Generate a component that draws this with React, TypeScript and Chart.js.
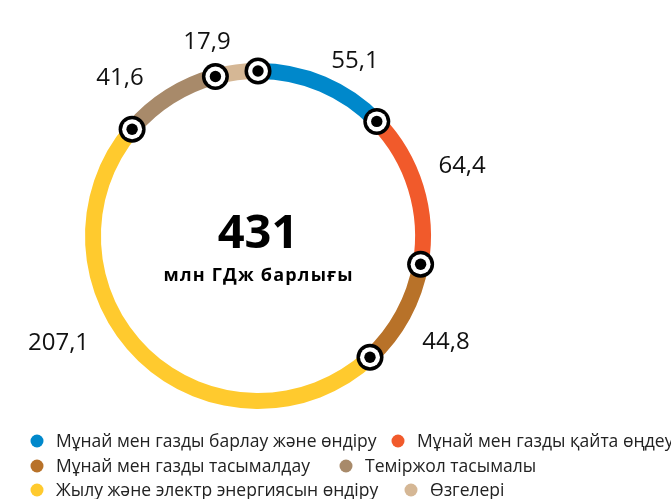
import React, { useEffect, useRef } from "react";
import { Chart, registerables } from "chart.js";

Chart.register(...registerables);

// ---- data ----
const categories = [
  "Мұнай мен газды барлау және өндіру",
  "Мұнай мен газды қайта өңдеу",
  "Мұнай мен газды тасымалдау",
  "Жылу және электр энергиясын өндіру",
  "Теміржол тасымалы",
  "Өзгелері",
];
const values = [55.1, 64.4, 44.8, 207.1, 41.6, 17.9];
const valueLabels = ["55,1", "64,4", "44,8", "207,1", "41,6", "17,9"];
const totalLabel = "431";
const totalCaption = "млн ГДж барлығы";
const colors = ["#0088CB", "#F15A2B", "#B87229", "#FFCA2E", "#A88A6A", "#D5B795"];
// legend rows (indices into categories)
const legendRows = [
  [0, 1],
  [2, 4],
  [3, 5],
];

// ---- layout / style ----
const FONT = '"Open Sans", "Noto Sans", sans-serif';
const TEXT_COLOR = "#111111";
const LABEL_NUDGE: [number, number][] = [
  [-3, 3],
  [-6, -14],
  [-7, 11],
  [-34, -35],
  [-10, 5],
  [-2, -2],
];
const LEGEND_Y = [441, 466, 490];
const LEGEND_X = [
  [37, 398],
  [37, 346],
  [37, 411],
];

const decorPlugin = {
  id: "decor",
  afterDatasetsDraw(chart: any) {
    const ctx: any = chart.ctx;
    const meta = chart.getDatasetMeta(0);
    const arcs = meta.data;
    if (!arcs.length) return;
    const cx = arcs[0].x;
    const cy = arcs[0].y;
    ctx.save();

    // value labels
    ctx.font = `400 24px ${FONT}`;
    ctx.fillStyle = TEXT_COLOR;
    ctx.textBaseline = "alphabetic";
    arcs.forEach((arc: any, i: number) => {
      const p = arc.getProps(["startAngle", "endAngle", "outerRadius"], true);
      const mid = (p.startAngle + p.endAngle) / 2;
      const r = p.outerRadius + 22;
      const [nx, ny] = LABEL_NUDGE[i] || [0, 0];
      const px = cx + r * Math.cos(mid) + nx;
      const py = cy + r * Math.sin(mid) + ny;
      ctx.textAlign = Math.cos(mid) >= 0 ? "left" : "right";
      ctx.fillText(valueLabels[i], px, py + 8.6);
    });

    // boundary markers
    arcs.forEach((arc: any) => {
      const p = arc.getProps(["startAngle", "innerRadius", "outerRadius"], true);
      const rm = (p.innerRadius + p.outerRadius) / 2;
      const mx = cx + rm * Math.cos(p.startAngle);
      const my = cy + rm * Math.sin(p.startAngle);
      ctx.beginPath();
      ctx.arc(mx, my, 13.5, 0, Math.PI * 2);
      ctx.fillStyle = "#000";
      ctx.fill();
      ctx.beginPath();
      ctx.arc(mx, my, 10, 0, Math.PI * 2);
      ctx.fillStyle = "#fff";
      ctx.fill();
      ctx.beginPath();
      ctx.arc(mx, my, 5.7, 0, Math.PI * 2);
      ctx.fillStyle = "#000";
      ctx.fill();
    });

    // center text
    ctx.fillStyle = "#000";
    ctx.textAlign = "center";
    ctx.font = `700 47px ${FONT}`;
    ctx.fillText(totalLabel, cx, 247.5);
    ctx.font = `700 18px ${FONT}`;
    if ("letterSpacing" in ctx) ctx.letterSpacing = "1.2px";
    ctx.fillText(totalCaption, cx + 0.6, 281);
    if ("letterSpacing" in ctx) ctx.letterSpacing = "0px";

    // legend
    ctx.font = `400 17.5px ${FONT}`;
    ctx.textAlign = "left";
    ctx.textBaseline = "middle";
    legendRows.forEach((row, r) => {
      row.forEach((idx, c) => {
        const x = LEGEND_X[r][c];
        const y = LEGEND_Y[r];
        ctx.beginPath();
        ctx.arc(x, y, 6.5, 0, Math.PI * 2);
        ctx.fillStyle = colors[idx];
        ctx.fill();
        ctx.fillStyle = "#222";
        ctx.fillText(categories[idx], x + 19, y + 1);
      });
    });
    ctx.restore();
  },
};

export default function App() {
  const ref = useRef<HTMLCanvasElement | null>(null);
  useEffect(() => {
    if (!ref.current) return;
    const chart = new Chart(ref.current, {
      type: "doughnut",
      data: {
        labels: categories,
        datasets: [
          {
            data: values,
            backgroundColor: colors,
            borderWidth: 0,
            hoverOffset: 0,
          },
        ],
      },
      options: {
        animation: false,
        responsive: true,
        maintainAspectRatio: false,
        cutout: "90.8%",
        layout: { padding: { top: 63, bottom: 90, left: 85, right: 240 } },
        plugins: {
          legend: { display: false },
          tooltip: { enabled: false },
          title: { display: false },
        },
      },
      plugins: [decorPlugin],
    });
    return () => chart.destroy();
  }, []);
  return (
    <div
      style={{
        position: "fixed",
        left: 0,
        top: 0,
        width: 671,
        height: 499,
        background: "#fff",
        overflow: "hidden",
      }}
    >
      <canvas ref={ref} style={{ display: "block" }} />
    </div>
  );
}
